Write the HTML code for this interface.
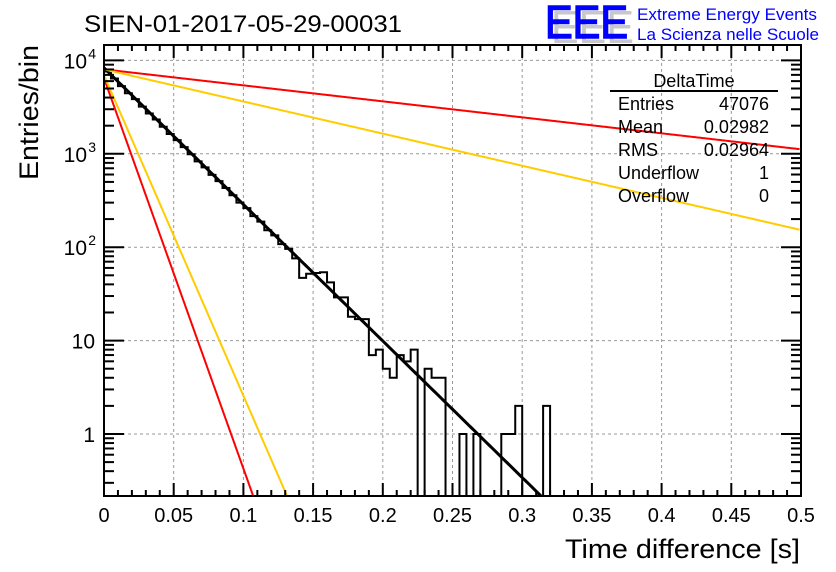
<!DOCTYPE html>
<html><head><meta charset="utf-8"><style>
body{margin:0;background:#fff;}
svg{display:block;font-family:"Liberation Sans",sans-serif;}
</style></head><body>
<svg id="c" width="836" height="572">
<rect width="836" height="572" fill="#fff"/>
<g id="grid"></g>
<g id="marks"></g>
<g id="axes"></g>
<text x="84" y="32" font-size="24" textLength="318" lengthAdjust="spacingAndGlyphs">SIEN-01-2017-05-29-00031</text>
<g>
<text x="551" y="43" font-size="46" fill="#c8c8c8" textLength="83" lengthAdjust="spacingAndGlyphs">EEE</text>
<text x="545" y="38" font-size="46" fill="#0000ff" textLength="83" lengthAdjust="spacingAndGlyphs" stroke="#0000ff" stroke-width="1.5">EEE</text>
<text x="637" y="20" font-size="17" fill="#0000ff" textLength="180" lengthAdjust="spacingAndGlyphs">Extreme Energy Events</text>
<text x="637" y="40" font-size="17" fill="#0000ff" textLength="182" lengthAdjust="spacingAndGlyphs">La Scienza nelle Scuole</text>
</g>
<g font-size="18">
<text x="694" y="87" text-anchor="middle">DeltaTime</text>
<line x1="610" y1="91" x2="778" y2="91" stroke="#000" stroke-width="2"/>
<text x="618" y="110">Entries</text><text x="769" y="110" text-anchor="end">47076</text>
<text x="618" y="133">Mean</text><text x="769" y="133" text-anchor="end">0.02982</text>
<text x="618" y="156">RMS</text><text x="769" y="156" text-anchor="end">0.02964</text>
<text x="618" y="179">Underflow</text><text x="769" y="179" text-anchor="end">1</text>
<text x="618" y="202">Overflow</text><text x="769" y="202" text-anchor="end">0</text>
</g>
<text x="565" y="558" font-size="27" textLength="235" lengthAdjust="spacingAndGlyphs">Time difference [s]</text>
<text transform="translate(38,180) rotate(-90)" font-size="27" textLength="135" lengthAdjust="spacingAndGlyphs">Entries/bin</text>
</svg>
<script>
const binCounts=[7600,6400,5300,4450,3850,3200,2700,2330,1950,1630,1400,1180,990,830,715,595,510,430,360,300,262,215,188,152,134,108,96,76,47,52,53,54,42,29,29,18,17,17,7,8,5,4,7,6,8,0,5,4,4,0,0,1,0,1,0,0,0,1,1,2,0,0,0,2];
const binWidth=0.005;
const fitLines=[{a:3.92,b:14.62,color:"#000",w:3},{a:3.904,b:1.712,color:"#ff0000",w:2},{a:3.904,b:3.44,color:"#ffcc00",w:2},{a:3.81,b:41.8,color:"#ff0000",w:2},{a:3.84,b:34.3,color:"#ffcc00",w:2}];
const xTicks=[0,0.05,0.1,0.15,0.2,0.25,0.3,0.35,0.4,0.45,0.5];
const yDecades=[0,1,2,3,4];
const X0=104,X1=801,Y0=45,Y1=496;
const xs=t=>X0+(X1-X0)*t/0.5;
const LOG_MIN=Math.log10(0.218)
const ys=v=>434-93.4*Math.log10(v);
const NS="http://www.w3.org/2000/svg";
function mk(tag,attrs,parent){const e=document.createElementNS(NS,tag);for(const k in attrs)e.setAttribute(k,attrs[k]);parent.appendChild(e);return e;}
const grid=document.getElementById('grid'),marks=document.getElementById('marks'),axes=document.getElementById('axes');
xTicks.slice(1,-1).forEach(t=>{const l=mk('line',{x1:xs(t),x2:xs(t),y1:Y0,y2:Y1,stroke:'#999','stroke-dasharray':'3,3'},grid);

});
yDecades.forEach(d=>{const l=mk('line',{x1:X0,x2:X1,y1:ys(Math.pow(10,d)),y2:ys(Math.pow(10,d)),stroke:'#999','stroke-dasharray':'3,3'},grid);

});
let d=`M${xs(0)},${Y1}`;
binCounts.forEach((c,i)=>{const y=c>0?Math.min(Y1,ys(c)):Y1;d+=` L${xs(i*binWidth)},${y} L${xs((i+1)*binWidth)},${y}`;});
d+=` L${xs(binCounts.length*binWidth)},${Y1}`;
const h=mk('path',{d:d,fill:'none',stroke:'#000','stroke-width':2},marks);


fitLines.forEach(f=>{let p='';for(let t=0;t<=0.5;t+=0.001){const lv=f.a-f.b*t;if(lv<LOG_MIN){p+=(p?' L':'M')+xs((f.a-LOG_MIN)/f.b)+','+Y1;break;}p+=(p?' L':'M')+xs(t)+','+ys(Math.pow(10,lv));}
const e=mk('path',{d:p,fill:'none',stroke:f.color,'stroke-width':f.w},marks);

});
mk('rect',{x:X0,y:Y0,width:X1-X0,height:Y1-Y0,fill:'none',stroke:'#000','stroke-width':2},axes);
for(let i=0;i<=50;i++){const x=xs(i*0.01);const L=i%5==0?13:6;
mk('line',{x1:x,x2:x,y1:Y1,y2:Y1-L,stroke:'#000','stroke-width':2},axes);
mk('line',{x1:x,x2:x,y1:Y0,y2:Y0+L,stroke:'#000','stroke-width':2},axes);}
xTicks.forEach(t=>{const e=mk('text',{x:xs(t),y:522,'font-size':20,'text-anchor':'middle'},axes);e.textContent=String(t);

});
for(let dd=-1;dd<=4;dd++){for(let m=1;m<=9;m++){const v=m*Math.pow(10,dd);const y=ys(v);if(y<Y0||y>Y1)continue;const L=m==1?20:10;
mk('line',{x1:X0,x2:X0+L,y1:y,y2:y,stroke:'#000','stroke-width':2},axes);
mk('line',{x1:X1,x2:X1-L,y1:y,y2:y,stroke:'#000','stroke-width':2},axes);}}
const yl=[["1",""],["10",""],["10","2"],["10","3"],["10","4"]];
yDecades.forEach((dd,i)=>{const y=ys(Math.pow(10,dd))+8;const e=mk('text',{x:i<2?95:87,y:y,'font-size':21,'text-anchor':'end'},axes);e.textContent=yl[i][0];


if(yl[i][1]){const s=mk('text',{x:96,y:y-10,'font-size':14,'text-anchor':'end'},axes);s.textContent=yl[i][1];}});
</script>
</body></html>
